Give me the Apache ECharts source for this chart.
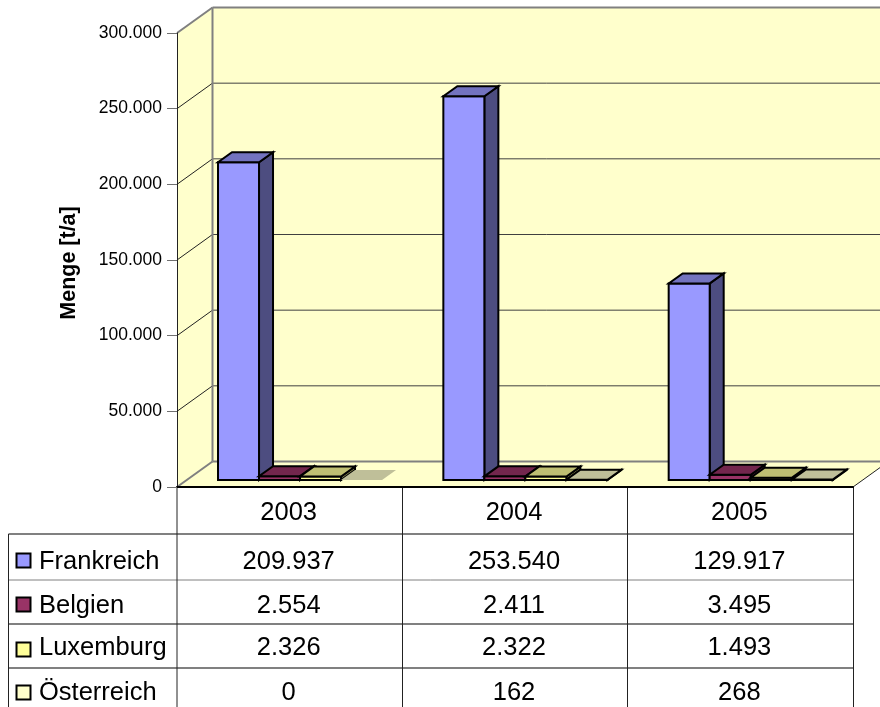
<!DOCTYPE html>
<html><head><meta charset="utf-8">
<style>html,body{margin:0;padding:0;background:#fff}#c{width:880px;height:707px}</style>
<script src="https://cdn.jsdelivr.net/npm/echarts@6/dist/echarts.min.js"></script>
</head><body><div id="c"></div>
<script>
var categories = ['2003', '2004', '2005'];
var seriesNames = ['Frankreich', 'Belgien', 'Luxemburg', 'Österreich'];
var frankreich = [209937, 253540, 129917];
var belgien = [2554, 2411, 3495];
var luxemburg = [2326, 2322, 1493];
var oesterreich = [0, 162, 268];
var yTicks = [0, 50000, 100000, 150000, 200000, 250000, 300000];
var allValues = [frankreich, belgien, luxemburg, oesterreich];

var FONT = '"Liberation Sans", Arial, sans-serif';
var faces = [
  {front: '#9999FF', top: '#7373BF', side: '#4D4D80'},
  {front: '#993366', top: '#73264D', side: '#4D1A33'},
  {front: '#FFFF99', top: '#BFBF73', side: '#80804D'},
  {front: '#FFFFCC', top: '#BFBF99', side: '#808066'}
];
var rowY = [562, 606, 648, 692.5];
var keyY = [553.5, 597.5, 642.5, 685.5];
var wallDX = 35.5, wallDY = -25.5;
var fmt = function (v) { return String(v).replace(/\B(?=(\d{3})+$)/g, '.'); };

function poly(points, fill, stroke, w) {
  return {type: 'polygon', shape: {points: points},
    style: {fill: fill, stroke: stroke || null, lineWidth: w || 0, lineJoin: 'miter'}};
}
function line(x1, y1, x2, y2, color, w) {
  return {type: 'line', shape: {x1: x1, y1: y1, x2: x2, y2: y2},
    style: {stroke: color, lineWidth: w, fill: null}};
}

function renderFrame(params, api) {
  var cs = params.coordSys;
  var L = cs.x, R = cs.x + cs.width, T = cs.y, B = cs.y + cs.height;
  var k = [];
  var wall = '#FFFFCC';
  k.push(poly([[L, T], [L + wallDX, T + wallDY], [L + wallDX, B + wallDY], [L, B]], wall));
  k.push(poly([[L + wallDX, T + wallDY], [R + wallDX, T + wallDY], [R + wallDX, B + wallDY], [L + wallDX, B + wallDY]], wall));
  k.push(poly([[L, B], [R, B], [R + wallDX, B + wallDY], [L + wallDX, B + wallDY]], wall));
  yTicks.forEach(function (t) {
    var y = api.coord([0, t])[1];
    if (t > 0 && t < yTicks[yTicks.length - 1]) {
      k.push(line(L, y, L + wallDX, y + wallDY, '#222222', 1));
      k.push(line(L + wallDX, y + wallDY, R + wallDX, y + wallDY, '#404040', 1));
    }
  });
  k.push(line(L + wallDX, T + wallDY, R + wallDX, T + wallDY, '#808080', 2));
  k.push(line(L + wallDX, T + wallDY, L + wallDX, B + wallDY, '#808080', 2));
  k.push(line(L + wallDX, B + wallDY, R + wallDX, B + wallDY, '#808080', 2));
  k.push(line(L, T, L + wallDX, T + wallDY, '#808080', 2));
  k.push(line(L, B, L + wallDX, B + wallDY, '#808080', 2));
  k.push(line(R, B, R + wallDX, B + wallDY, '#222222', 1));

  // data table frame
  var tableBottom = 707, keyLeft = 8.5;
  var rows = [534, 580, 624, 668], rowW = [2, 1, 2, 2];
  rows.forEach(function (y, i) {
    k.push(line(keyLeft, y, R, y, '#808080', rowW[i]));
  });
  k.push(line(keyLeft, rows[0], keyLeft, tableBottom, '#222222', 1));
  k.push(line(L, B, L, tableBottom, '#222222', 1));
  var band = cs.width / categories.length;
  for (var c = 1; c <= categories.length; c++) {
    var x = Math.floor(L + band * c) + 0.5;
    k.push(line(x, B, x, tableBottom, '#222222', 1));
  }
  seriesNames.forEach(function (n, i) {
    k.push({type: 'rect', shape: {x: 16.5, y: keyY[i], width: 14, height: 14},
      style: {fill: faces[i].front, stroke: '#000', lineWidth: 2}});
    k.push({type: 'text', style: {text: n, x: 39, y: rowY[i], align: 'left', verticalAlign: 'middle',
      font: '25.5px ' + FONT, fill: '#000'}});
  });
  return {type: 'group', children: k};
}

function makeRender(si) {
  return function (params, api) {
    var cat = api.value(0), val = api.value(1);
    var top = api.coord([cat, val]);
    var base = api.coord([cat, 0]);
    var band = api.size([1, 0])[0];
    var barW = band * 0.182, gapL = band * 0.182;
    var x0 = base[0] - band / 2 + gapL + si * barW, x1 = x0 + barW;
    var lift = -7, dx = 14, dy = -10;
    var yb = base[1] + lift, yt = top[1] + lift;
    var f = faces[si];
    var bw = val > 0 ? 2 : 0, st = val > 0 ? '#000' : null;
    var k = [];
    if (val > 0) {
      k.push(poly([[x1, yt], [x1 + dx, yt + dy], [x1 + dx, yb + dy], [x1, yb]], f.side, st, bw));
      k.push(poly([[x0, yb], [x1, yb], [x1, yt], [x0, yt]], f.front, st, bw));
    }
    k.push(poly([[x0, yt], [x1, yt], [x1 + dx, yt + dy], [x0 + dx, yt + dy]], f.top, st, bw));
    k.push({type: 'text', style: {text: fmt(val), x: base[0] - 1, y: rowY[si], align: 'center', verticalAlign: 'middle',
      font: '25.5px ' + FONT, fill: '#000'}});
    return {type: 'group', children: k};
  };
}

var series = [{
  type: 'custom', name: 'frame', silent: true, z: 1, animation: false, clip: false,
  data: [[0, 0]], encode: {x: 0, y: 1}, renderItem: renderFrame
}];
allValues.forEach(function (vals, si) {
  series.push({
    type: 'custom', name: seriesNames[si], silent: true, z: 2 + si, animation: false, clip: false,
    data: vals.map(function (v, i) { return [i, v]; }),
    encode: {x: 0, y: 1}, renderItem: makeRender(si)
  });
});

var chart = echarts.init(document.getElementById('c'), null, {renderer: 'canvas'});
chart.setOption({
  animation: false,
  backgroundColor: '#fff',
  grid: {left: 177, right: 27, top: 33, height: 454, containLabel: false},
  xAxis: {
    type: 'category', data: categories, boundaryGap: true, z: 10,
    axisLine: {onZero: false, lineStyle: {color: '#000', width: 2}},
    axisTick: {show: false},
    axisLabel: {color: '#000', fontFamily: FONT, fontSize: 25.5, margin: 12.5, interval: 0, padding: [0, 2, 0, 0]}
  },
  yAxis: {
    type: 'value', min: 0, max: 300000, interval: 50000, z: 10,
    name: 'Menge [t/a]', nameLocation: 'middle', nameGap: 97, nameRotate: 90,
    nameTextStyle: {color: '#000', fontFamily: FONT, fontSize: 21.5, fontWeight: 'bold', padding: [0, 0, 0, -6]},
    axisLine: {show: true, lineStyle: {color: '#222', width: 1}},
    axisTick: {show: true, length: 10, lineStyle: {color: '#707070', width: 1}},
    axisLabel: {color: '#000', fontFamily: FONT, fontSize: 17.5, margin: 15, formatter: fmt, padding: [5, 0, 0, 0]},
    splitLine: {show: false}
  },
  series: series
});
</script></body></html>
